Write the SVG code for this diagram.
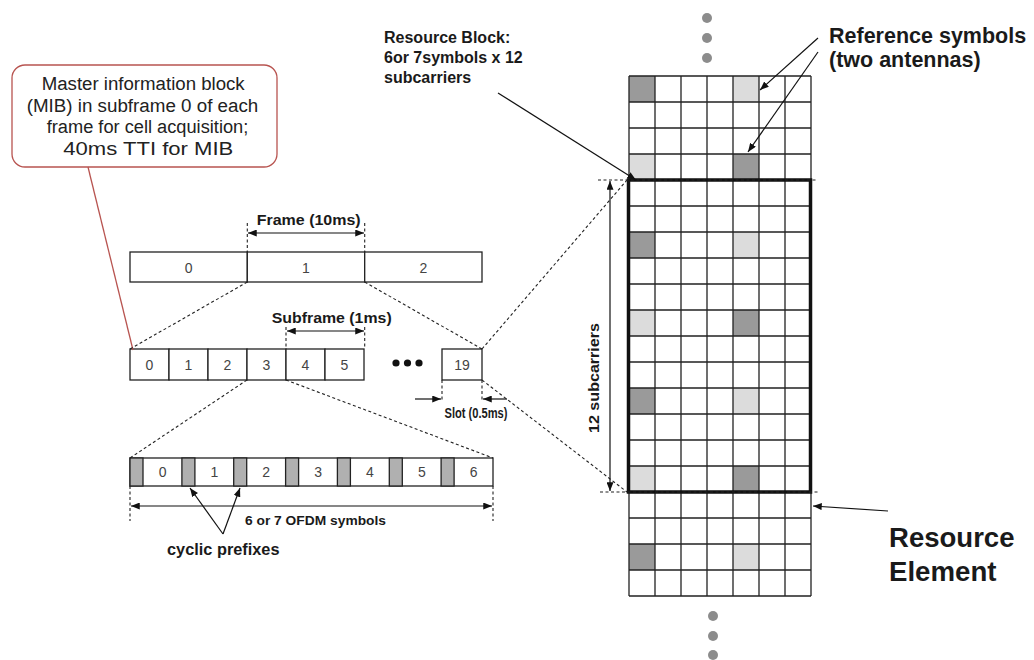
<svg xmlns="http://www.w3.org/2000/svg" width="1034" height="660" viewBox="0 0 1034 660">
<style>
.box{fill:#fff;stroke:#222;stroke-width:1.3}
.cp{fill:#b0b0b0;stroke:#222;stroke-width:1.3}
.num{font-family:"Liberation Sans",Arial,sans-serif;font-size:14px;fill:#444;text-anchor:middle}
.lbl{font-family:"Liberation Sans",Arial,sans-serif;font-weight:bold;fill:#1a1a1a}
.reg{font-family:"Liberation Sans",Arial,sans-serif;fill:#222}
.dash{fill:none;stroke:#222;stroke-width:1.1;stroke-dasharray:3 2.5}
.arr{fill:none;stroke:#111;stroke-width:1.2}
.grid{fill:none;stroke:#222;stroke-width:1.3}
.dk{fill:#9a9a9a}
.lt{fill:#dcdcdc}
.dot{fill:#8c8c8c}
</style>
<defs>
<marker id="ah" viewBox="0 0 10 8" refX="10" refY="4" markerWidth="9" markerHeight="7" markerUnits="userSpaceOnUse" orient="auto-start-reverse">
<path d="M0,0 L10,4 L0,8 z" fill="#111"/>
</marker>
</defs>
<rect width="1034" height="660" fill="#fff"/>

<g id="mib-callout">
<rect x="12" y="65" width="265" height="102" rx="13" fill="#fff" stroke="#b85450" stroke-width="1.3"/>
<text class="reg" font-size="18" x="41.7" y="89.5" textLength="203" lengthAdjust="spacingAndGlyphs">Master information block</text>
<text class="reg" font-size="18" x="26.7" y="111.5" textLength="231.6" lengthAdjust="spacingAndGlyphs">(MIB) in subframe 0 of each</text>
<text class="reg" font-size="18" x="46.7" y="133" textLength="201.6" lengthAdjust="spacingAndGlyphs">frame for cell acquisition;</text>
<text class="reg" font-size="18" x="63.3" y="154.5" textLength="170" lengthAdjust="spacingAndGlyphs">40ms TTI for MIB</text>
</g>

<g id="frame-0"><rect class="box" x="130" y="252" width="117.3" height="30"/><text class="num" x="188.7" y="273">0</text></g>
<g id="frame-1"><rect class="box" x="247.3" y="252" width="117.4" height="30"/><text class="num" x="306" y="273">1</text></g>
<g id="frame-2"><rect class="box" x="364.7" y="252" width="117.3" height="30"/><text class="num" x="423.3" y="273">2</text></g>

<g id="subframe-0"><rect class="box" x="130" y="349" width="39" height="31"/><text class="num" x="149.5" y="370">0</text></g>
<g id="subframe-1"><rect class="box" x="169" y="349" width="39" height="31"/><text class="num" x="188.5" y="370">1</text></g>
<g id="subframe-2"><rect class="box" x="208" y="349" width="39" height="31"/><text class="num" x="227.5" y="370">2</text></g>
<g id="subframe-3"><rect class="box" x="247" y="349" width="39" height="31"/><text class="num" x="266.5" y="370">3</text></g>
<g id="subframe-4"><rect class="box" x="286" y="349" width="39" height="31"/><text class="num" x="305.5" y="370">4</text></g>
<g id="subframe-5"><rect class="box" x="325" y="349" width="39" height="31"/><text class="num" x="344.5" y="370">5</text></g>
<g id="ellipsis">
<circle cx="396" cy="363" r="3.6" fill="#111"/><circle cx="407.5" cy="363" r="3.6" fill="#111"/><circle cx="419" cy="363" r="3.6" fill="#111"/>
</g>
<g id="subframe-19"><rect class="box" x="442" y="349" width="40" height="31"/><text class="num" x="462" y="370">19</text></g>

<g id="ofdm-symbols">
<rect class="box" x="130" y="458" width="363" height="28"/>
<rect class="cp" x="130" y="458" width="13" height="28"/>
<rect class="cp" x="181.9" y="458" width="13" height="28"/>
<rect class="cp" x="233.7" y="458" width="13" height="28"/>
<rect class="cp" x="285.6" y="458" width="13" height="28"/>
<rect class="cp" x="337.4" y="458" width="13" height="28"/>
<rect class="cp" x="389.3" y="458" width="13" height="28"/>
<rect class="cp" x="441.1" y="458" width="13" height="28"/>
<text class="num" x="162.6" y="477">0</text>
<text class="num" x="214.4" y="477">1</text>
<text class="num" x="266.2" y="477">2</text>
<text class="num" x="318.1" y="477">3</text>
<text class="num" x="369.9" y="477">4</text>
<text class="num" x="421.8" y="477">5</text>
<text class="num" x="473.6" y="477">6</text>
</g>

<g id="resource-grid">
<rect class="dk" x="629" y="76" width="26" height="26"/><rect class="lt" x="733" y="76" width="26" height="26"/>
<rect class="lt" x="629" y="154" width="26" height="26"/><rect class="dk" x="733" y="154" width="26" height="26"/>
<rect class="dk" x="629" y="232" width="26" height="26"/><rect class="lt" x="733" y="232" width="26" height="26"/>
<rect class="lt" x="629" y="310" width="26" height="26"/><rect class="dk" x="733" y="310" width="26" height="26"/>
<rect class="dk" x="629" y="388" width="26" height="26"/><rect class="lt" x="733" y="388" width="26" height="26"/>
<rect class="lt" x="629" y="466" width="26" height="26"/><rect class="dk" x="733" y="466" width="26" height="26"/>
<rect class="dk" x="629" y="544" width="26" height="26"/><rect class="lt" x="733" y="544" width="26" height="26"/>
<path class="grid" d="M629,76H811M629,102H811M629,128H811M629,154H811M629,180H811M629,206H811M629,232H811M629,258H811M629,284H811M629,310H811M629,336H811M629,362H811M629,388H811M629,414H811M629,440H811M629,466H811M629,492H811M629,518H811M629,544H811M629,570H811M629,596H811M629,76V596M655,76V596M681,76V596M707,76V596M733,76V596M759,76V596M785,76V596M811,76V596"/>
</g>
<g id="resource-block">
<rect x="628.5" y="180" width="182" height="312" fill="none" stroke="#111" stroke-width="3.5"/>
</g>
<g id="continuation-dots">
<circle class="dot" cx="707" cy="18" r="5"/><circle class="dot" cx="707" cy="38" r="5"/><circle class="dot" cx="707" cy="58" r="5"/>
<circle class="dot" cx="713" cy="616" r="5"/><circle class="dot" cx="713" cy="636" r="5"/><circle class="dot" cx="713" cy="655" r="5"/>
</g>

<g id="connectors">
<line x1="88" y1="167" x2="133" y2="350" stroke="#b85450" stroke-width="1.3"/>
<path class="dash" d="M247.3,223V252M364.7,223V252"/>
<line class="arr" x1="248" y1="233" x2="364" y2="233" marker-start="url(#ah)" marker-end="url(#ah)"/>
<path class="dash" d="M286,327V349M364.7,327V349"/>
<line class="arr" x1="287" y1="331" x2="364" y2="331" marker-start="url(#ah)" marker-end="url(#ah)"/>
<path class="dash" d="M247.3,282L130,349M364.7,282L482,349"/>
<path class="dash" d="M247,380L130,458M286,380L493,458"/>
<path class="dash" d="M442,380V400M482,380V400"/>
<line class="arr" x1="415" y1="399" x2="441" y2="399" marker-end="url(#ah)"/>
<line class="arr" x1="507" y1="399" x2="483" y2="399" marker-end="url(#ah)"/>
<path class="dash" d="M130,486V521M493,486V521"/>
<line class="arr" x1="131" y1="506" x2="492" y2="506" marker-start="url(#ah)" marker-end="url(#ah)"/>
<line class="arr" x1="223" y1="534" x2="190" y2="488" marker-end="url(#ah)"/>
<line class="arr" x1="223" y1="534" x2="240" y2="488" marker-end="url(#ah)"/>
<path class="dash" d="M482,349L627,180M482,380L627,492"/>
<path class="dash" d="M598,180H818M600,492H818"/>
<line class="arr" x1="610" y1="181" x2="610" y2="491" marker-start="url(#ah)" marker-end="url(#ah)"/>
<line class="arr" x1="498" y1="93" x2="636" y2="180" marker-end="url(#ah)"/>
<line class="arr" x1="818" y1="38" x2="760" y2="90" marker-end="url(#ah)"/>
<line class="arr" x1="818" y1="52" x2="748" y2="152" marker-end="url(#ah)"/>
<line class="arr" x1="888" y1="511" x2="813" y2="506" marker-end="url(#ah)"/>
</g>

<g id="labels">
<text class="lbl" font-size="15.5" x="308.7" y="225" text-anchor="middle" textLength="104" lengthAdjust="spacingAndGlyphs">Frame (10ms)</text>
<text class="lbl" font-size="15.5" x="331.7" y="323" text-anchor="middle" textLength="120" lengthAdjust="spacingAndGlyphs">Subframe (1ms)</text>
<text class="lbl" font-size="14" x="444.5" y="418" textLength="63" lengthAdjust="spacingAndGlyphs">Slot (0.5ms)</text>
<text class="lbl" font-size="13" x="245" y="524.5" textLength="141" lengthAdjust="spacingAndGlyphs">6 or 7 OFDM symbols</text>
<text class="lbl" font-size="16" x="167" y="555" textLength="112.5" lengthAdjust="spacingAndGlyphs">cyclic prefixes</text>
<text class="lbl" font-size="15" transform="translate(599,378) rotate(-90)" text-anchor="middle" textLength="110" lengthAdjust="spacingAndGlyphs">12 subcarriers</text>
<text class="lbl" font-size="16" x="384" y="43">Resource Block:</text>
<text class="lbl" font-size="16" x="384" y="63">6or 7symbols x 12</text>
<text class="lbl" font-size="16" x="384" y="83">subcarriers</text>
<text class="lbl" font-size="21.5" x="829" y="43">Reference symbols</text>
<text class="lbl" font-size="21.5" x="829" y="67">(two antennas)</text>
<text class="lbl" font-size="27" x="889" y="546.5" textLength="125.5" lengthAdjust="spacingAndGlyphs">Resource</text>
<text class="lbl" font-size="27" x="889" y="581" textLength="107.5" lengthAdjust="spacingAndGlyphs">Element</text>
</g>
</svg>
